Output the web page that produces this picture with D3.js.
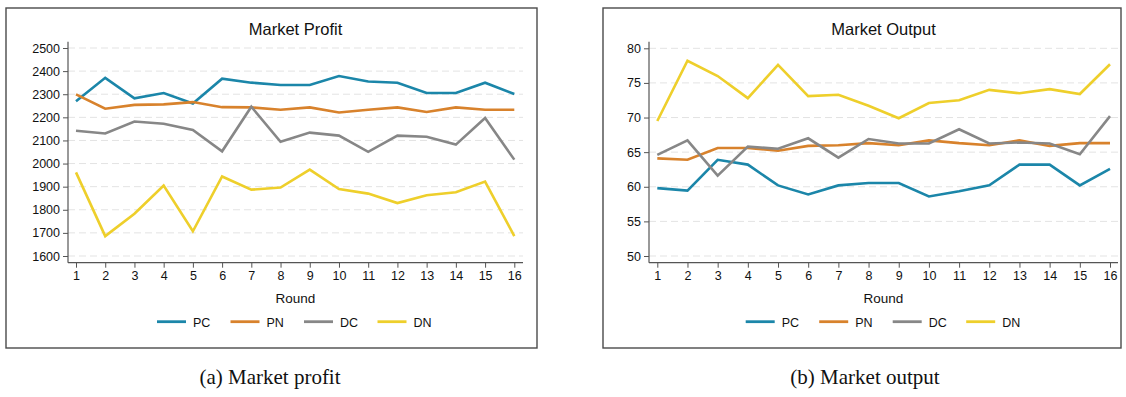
<!DOCTYPE html>
<html>
<head>
<meta charset="utf-8">
<script src="https://cdn.jsdelivr.net/npm/d3@7"></script>
<style>
  html, body { margin: 0; padding: 0; background: #fff; }
  svg { display: block; }
</style>
</head>
<body>
<svg id="fig" width="1126" height="397"></svg>
<script>
// Rounds of the experiment
const rounds = d3.range(1, 17);

// Market profit by treatment
const profitPC = [2270, 2371, 2282, 2305, 2260, 2367, 2350, 2340, 2340, 2379, 2355, 2350, 2305, 2305, 2350, 2301];
const profitPN = [2299, 2237, 2254, 2256, 2266, 2244, 2243, 2233, 2243, 2221, 2233, 2243, 2223, 2243, 2233, 2233];
const profitDC = [2142, 2130, 2182, 2172, 2145, 2053, 2246, 2094, 2134, 2121, 2051, 2121, 2116, 2082, 2197, 2017];
const profitDN = [1962, 1686, 1783, 1905, 1707, 1944, 1887, 1896, 1974, 1890, 1870, 1829, 1863, 1876, 1922, 1686];

// Market output by treatment
const outputPC = [59.8, 59.45, 63.9, 63.2, 60.2, 58.9, 60.2, 60.55, 60.55, 58.6, 59.35, 60.2, 63.2, 63.2, 60.2, 62.6];
const outputPN = [64.1, 63.9, 65.6, 65.6, 65.2, 65.9, 66.0, 66.3, 66.0, 66.7, 66.3, 66.0, 66.7, 65.9, 66.3, 66.3];
const outputDC = [64.6, 66.7, 61.6, 65.8, 65.5, 67.0, 64.2, 66.9, 66.25, 66.25, 68.3, 66.25, 66.4, 66.25, 64.7, 70.2];
const outputDN = [69.5, 78.2, 76.0, 72.8, 77.6, 73.1, 73.3, 71.7, 69.9, 72.1, 72.5, 74.0, 73.5, 74.1, 73.4, 77.7];

// Axis tick labels
const profitTicks = [1600, 1700, 1800, 1900, 2000, 2100, 2200, 2300, 2400, 2500];
const outputTicks = [50, 55, 60, 65, 70, 75, 80];

const seriesNames = ["PC", "PN", "DC", "DN"];
const seriesColors = ["#1b86a9", "#d8822c", "#878787", "#eecf2b"];

const svg = d3.select("#fig");
const sans = "'Liberation Sans', Arial, Helvetica, sans-serif";
const serif = "'Liberation Serif', 'Times New Roman', serif";

function drawPanel(p) {
  const g = svg.append("g");

  // panel frame
  g.append("rect")
    .attr("x", p.box[0]).attr("y", p.box[1])
    .attr("width", p.box[2] - p.box[0]).attr("height", p.box[3] - p.box[1])
    .attr("fill", "#fff").attr("stroke", "#4a4a4a").attr("stroke-width", 1.4);

  const x = d3.scaleLinear().domain([1, 16]).range(p.xRange);
  const y = d3.scaleLinear().domain(p.yDomain).range(p.yRange);

  // dashed gridlines
  g.append("g").selectAll("line").data(p.ticks).join("line")
    .attr("x1", p.axisX[0]).attr("x2", p.axisX[1])
    .attr("y1", d => y(d)).attr("y2", d => y(d))
    .attr("stroke", "#e3e3e3").attr("stroke-width", 1)
    .attr("stroke-dasharray", "7,4");

  // y axis
  const yAxis = g.append("g")
    .attr("transform", `translate(${p.axisX[0]},0)`)
    .call(d3.axisLeft(y).tickValues(p.ticks).tickFormat(d3.format("d"))
      .tickSize(5).tickSizeOuter(0).tickPadding(3));
  yAxis.select(".domain").remove();
  yAxis.selectAll(".tick line").attr("stroke", "#555");
  yAxis.selectAll(".tick text")
    .attr("font-family", sans).attr("font-size", 12.5).attr("fill", "#111");
  g.append("line")
    .attr("x1", p.axisX[0]).attr("x2", p.axisX[0])
    .attr("y1", p.axisY[0]).attr("y2", p.axisY[1])
    .attr("stroke", "#555").attr("stroke-width", 1.2);

  // x axis
  const xAxis = g.append("g")
    .attr("transform", `translate(0,${p.axisY[1]})`)
    .call(d3.axisBottom(x).tickValues(rounds).tickFormat(d3.format("d"))
      .tickSize(5).tickSizeOuter(0).tickPadding(3));
  xAxis.select(".domain").remove();
  xAxis.selectAll(".tick line").attr("stroke", "#555");
  xAxis.selectAll(".tick text")
    .attr("font-family", sans).attr("font-size", 12.5).attr("fill", "#111");
  g.append("line")
    .attr("x1", p.axisX[0]).attr("x2", p.axisX[1])
    .attr("y1", p.axisY[1]).attr("y2", p.axisY[1])
    .attr("stroke", "#555").attr("stroke-width", 1.2);

  // series lines
  const line = d3.line().x((d, i) => x(rounds[i])).y(d => y(d));
  p.series.forEach((vals, k) => {
    g.append("path").datum(vals)
      .attr("d", line)
      .attr("fill", "none")
      .attr("stroke", seriesColors[k])
      .attr("stroke-width", 2.6)
      .attr("stroke-linejoin", "miter");
  });

  const cx = (p.axisX[0] + p.axisX[1]) / 2;

  // title
  g.append("text")
    .attr("x", cx).attr("y", 35)
    .attr("text-anchor", "middle")
    .attr("font-family", sans).attr("font-size", 16.5).attr("fill", "#111")
    .text(p.title);

  // x axis title
  g.append("text")
    .attr("x", cx).attr("y", 302.5)
    .attr("text-anchor", "middle")
    .attr("font-family", sans).attr("font-size", 13.5).attr("fill", "#111")
    .text("Round");

  // legend
  const lg = g.append("g").attr("transform", `translate(${p.legendX},321.7)`);
  seriesNames.forEach((name, k) => {
    const ox = k * 73.5;
    lg.append("line")
      .attr("x1", ox).attr("x2", ox + 29)
      .attr("y1", 0).attr("y2", 0)
      .attr("stroke", seriesColors[k]).attr("stroke-width", 2.8);
    lg.append("text")
      .attr("x", ox + 36).attr("y", 5)
      .attr("font-family", sans).attr("font-size", 12.5).attr("fill", "#111")
      .text(name);
  });

  // caption below the panel
  svg.append("text")
    .attr("x", p.captionX).attr("y", 384)
    .attr("text-anchor", "middle")
    .attr("font-family", serif).attr("font-size", 21).attr("fill", "#111")
    .text(p.caption);
}

drawPanel({
  box: [6, 8, 537, 348],
  xRange: [76, 514.3],
  yDomain: [1600, 2500],
  yRange: [256, 48],
  axisX: [68, 523],
  axisY: [41.7, 262.7],
  ticks: profitTicks,
  series: [profitPC, profitPN, profitDC, profitDN],
  title: "Market Profit",
  legendX: 157,
  caption: "(a) Market profit",
  captionX: 270
});

drawPanel({
  box: [603, 8, 1121, 348],
  xRange: [657.3, 1110],
  yDomain: [50, 80],
  yRange: [256, 48.3],
  axisX: [649, 1118],
  axisY: [41.7, 262.7],
  ticks: outputTicks,
  series: [outputPC, outputPN, outputDC, outputDN],
  title: "Market Output",
  legendX: 745.7,
  caption: "(b) Market output",
  captionX: 865
});
</script>
</body>
</html>
